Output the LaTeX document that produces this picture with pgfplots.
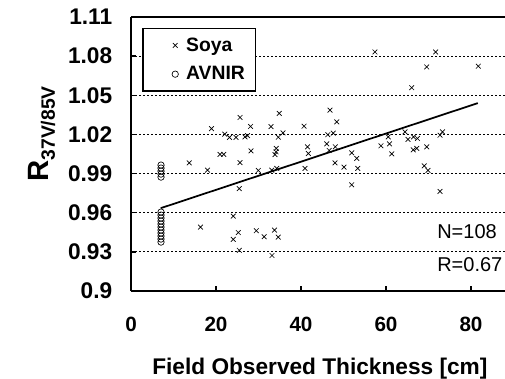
\documentclass[border=0pt]{standalone}
\usepackage{fontspec}
\setmainfont{Liberation Sans}
\usepackage{pgfplots}
\pgfplotsset{compat=1.18}
\begin{document}
\begin{tikzpicture}
\begin{axis}[
  scale only axis, width=280.5pt, height=205.5pt,
  xmin=0, xmax=88, ymin=0.9, ymax=1.11,
  axis x line*=box, axis y line*=left,
  axis line style={line width=1.5pt},
  xtick={0,20,40,60,80},
  ytick={0.9,0.93,0.96,0.99,1.02,1.05,1.08,1.11},
  yticklabels={0.9,0.93,0.96,0.99,1.02,1.05,1.08,1.11},
  xtick pos=bottom, ytick pos=left, tick align=inside,
  major tick length=4pt, tick style={line width=1pt, black},
  /pgf/number format/assume math mode=true,
  xticklabel style={font=\bfseries\fontsize{15.5}{18}\selectfont, anchor=north, inner sep=0pt, yshift=-19.5pt},
  yticklabel style={font=\bfseries\fontsize{17}{20}\selectfont, anchor=east, inner sep=0pt, xshift=-13.9pt},
  ymajorgrids, grid style={dash pattern=on 1.5pt off 1.5pt, line width=0.6pt, black},
  xlabel={Field Observed Thickness [cm]},
  xlabel style={at={(axis description cs:0.505,0)}, anchor=base, yshift=-62.25pt, font=\bfseries\fontsize{17}{20}\selectfont},
  ylabel={\fontsize{22}{26}\selectfont R\raisebox{-0.2em}{\fontsize{14.5}{17}\selectfont 37V/85V}},
  ylabel style={at={(axis description cs:-0.238,0.573)}, anchor=center, font=\bfseries},
  legend style={at={(0.03,0.961)}, anchor=north west, draw=black, line width=1pt,
    font=\bfseries\fontsize{14.5}{17}\selectfont, inner xsep=6pt, inner ysep=5pt, row sep=6pt},
  legend cell align=left,
  legend image code/.code={\path (-18pt,0pt) (6pt,0pt); \draw[#1] plot coordinates {(0pt,0pt)};},
]
\addplot[only marks, mark=x, mark size=2.5pt, line width=0.5pt, black] coordinates {
(13.72,0.9982) (16.35,0.9490) (18.0,0.9926) (18.94,1.0244) (20.94,1.0047)
(21.81,1.0047) (22.05,1.0202) (23.18,1.0177) (24.07,0.9574) (24.07,0.9396)
(24.71,1.0177) (25.25,0.9448) (25.48,0.9312) (25.48,0.9785) (25.65,1.0330)
(25.65,0.9984) (26.82,1.0181) (27.41,1.0191) (28.12,1.0261) (28.24,1.0074)
(29.48,0.9462) (29.95,0.9924) (31.34,0.9416) (32.94,1.0260) (33.11,0.9926)
(33.18,0.9272) (33.76,0.9467) (33.88,1.0045) (34.12,1.0067) (34.19,1.0093)
(34.28,0.9940) (34.66,1.0179) (34.66,0.9413) (34.89,1.0361) (35.76,1.0212)
(40.71,1.0263) (40.94,0.9940) (41.53,1.0105) (41.72,1.0054) (46.05,1.0128)
(46.31,1.0198) (46.64,1.0077) (46.82,1.0386) (47.6,1.0210) (48.07,1.0105)
(48.0,0.9982) (48.4,1.0296) (50.12,0.9949) (51.93,1.0059) (51.93,0.9814)
(53.11,1.0016) (53.36,0.9940) (57.41,1.0832) (58.82,1.0113) (60.54,1.0181)
(60.82,1.0128) (61.34,1.0051) (64.47,1.0220) (65.18,1.0162) (66.05,1.0558)
(66.47,1.0181) (66.42,1.0082) (67.22,1.0093) (67.41,1.0169) (68.99,0.9959)
(69.58,1.0105) (69.58,1.0717) (69.88,0.9924) (71.69,1.0832) (72.71,1.0194)
(73.29,1.0220) (72.71,0.9763) (81.72,1.0723)
};
\addlegendentry{Soya}
\addplot[only marks, mark=o, mark size=2.4pt, line width=0.5pt, black] coordinates {
(7.06,0.9965) (7.06,0.9942) (7.06,0.9919) (7.06,0.9896) (7.06,0.9873)
(7.06,0.9605) (7.06,0.9582) (7.06,0.9559) (7.06,0.9536) (7.06,0.9513)
(7.06,0.9490) (7.06,0.9467) (7.06,0.9444) (7.06,0.9421) (7.06,0.9398)
(7.06,0.9375)
};
\addlegendentry{AVNIR}
\addplot[no marks, line width=1.3pt, black, forget plot] coordinates {(7,0.9635) (81.6,1.044)};
\node[anchor=west, inner sep=0pt, font=\fontsize{15}{18}\selectfont] at (axis cs:72,0.9452) {N=108};
\node[anchor=west, inner sep=0pt, font=\fontsize{15}{18}\selectfont] at (axis cs:72,0.9200) {R=0.67};
\end{axis}
\pgfresetboundingbox
\path[use as bounding box] ([xshift=-98.25pt,yshift=-65.25pt]current axis.south west) rectangle ([yshift=12.75pt]current axis.north east);
\end{tikzpicture}
\end{document}
